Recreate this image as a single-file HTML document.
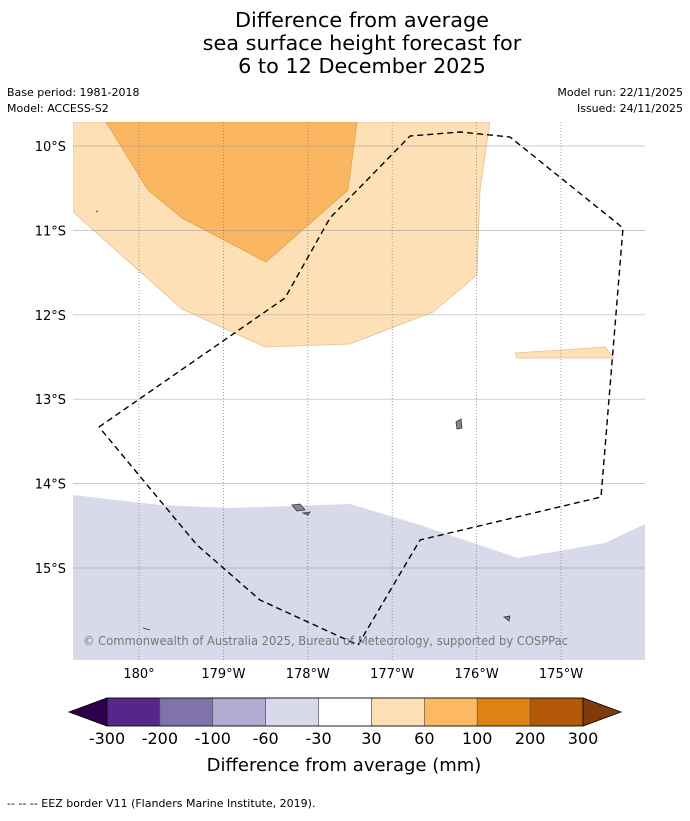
<!DOCTYPE html>
<html><head><meta charset="utf-8"><style>
body{margin:0;background:#fff;font-family:"Liberation Sans","DejaVu Sans",sans-serif;}
</style></head><body>
<svg width="690" height="816" viewBox="0 0 690 816" xmlns="http://www.w3.org/2000/svg" font-family="DejaVu Sans, Liberation Sans, sans-serif">
<text x="362" y="27" font-size="20.8" text-anchor="middle">Difference from average</text>
<text x="362" y="50" font-size="20.8" text-anchor="middle">sea surface height forecast for</text>
<text x="362" y="73" font-size="20.8" text-anchor="middle">6 to 12 December 2025</text>
<text x="7" y="96" font-size="11">Base period: 1981-2018</text>
<text x="7" y="112" font-size="11">Model: ACCESS-S2</text>
<text x="683" y="96" font-size="11" text-anchor="end">Model run: 22/11/2025</text>
<text x="683" y="112" font-size="11" text-anchor="end">Issued: 24/11/2025</text>
<defs><clipPath id="mapclip"><rect x="73" y="122" width="572" height="538"/></clipPath></defs>
<g clip-path="url(#mapclip)">
<rect x="73" y="122" width="572" height="538" fill="#fff"/>
<polygon fill="#fde0b6" stroke="#e8c090" stroke-width="0.8" points="73,122 490,122 480,190 477,275 433,312 350,344 265,347 182,309 73,212"/>
<polygon fill="#fbb662" stroke="#e0a050" stroke-width="0.8" points="106,122 357,122 348,190 266,262 182,218 148,190"/>
<polygon fill="#fde0b6" stroke="#e8c090" stroke-width="0.8" points="515,353 605,347 614,358 517,358"/>
<polygon fill="#d8d9ea" points="73,495 160,505 230,508 350,504 420,525 518,558 605,543 645,524 645,660 73,660"/>
<g id="grid"></g>
<g fill="#888" stroke="#333" stroke-width="0.8">
<path d="M292,505 L300,504 L305,510 L297,511 Z"/><path d="M303,513 L310,512 L308,515 Z"/>
<path d="M456,422 L461,419 L462,428 L457,429 Z"/><path d="M504,617 L510,616 L509,621 Z"/>
<path d="M143,628 L150,630" fill="none"/><path d="M96,211 L98,212" fill="none"/>
</g>
<polyline fill="none" stroke="#000" stroke-width="1.4" stroke-dasharray="6,4" points="99,427 285,298 330,218 410,136 460,132 510,137 623,228 601,497 420,540 358,645 260,600 197,545 99,427"/>
<text x="83" y="645" font-size="12" fill="#777" textLength="485" lengthAdjust="spacingAndGlyphs">© Commonwealth of Australia 2025, Bureau of Meteorology, supported by COSPPac</text>
</g>
<g id="axes"></g>
<g id="cbar"></g>
<text x="344" y="771" font-size="18" text-anchor="middle">Difference from average (mm)</text>
<text x="7" y="807" font-size="11">--  --  -- EEZ border V11 (Flanders Marine Institute, 2019).</text>
</svg>
<script>
const latTicks=[-10,-11,-12,-13,-14,-15];
const latLabels=["10°S","11°S","12°S","13°S","14°S","15°S"];
const lonTicks=[-180,-179,-178,-177,-176,-175];
const lonLabels=["180°","179°W","178°W","177°W","176°W","175°W"];
const cbLabels=["-300","-200","-100","-60","-30","30","60","100","200","300"];
const cbColors=["#542788","#8073ac","#b2abd2","#d8daeb","#ffffff","#fee0b6","#fdb863","#e08214","#b35806"];
const cbEnds=["#2d004b","#7f3b08"];
const NS="http://www.w3.org/2000/svg";
const xs=lon=>139+84.4*(lon+180);
const ys=lat=>146+84.4*(-10-lat);
function mk(t,a,p){const e=document.createElementNS(NS,t);for(const k in a)e.setAttribute(k,a[k]);p.appendChild(e);return e;}
const grid=document.getElementById('grid'),axes=document.getElementById('axes'),cb=document.getElementById('cbar');
latTicks.forEach((v,i)=>{
 const l=mk('line',{x1:73,x2:645,y1:ys(v),y2:ys(v),stroke:'#999','stroke-width':0.7,'stroke-opacity':0.7},grid);
 
 
 const t=mk('text',{x:66,y:ys(v)+5,'font-size':13,'text-anchor':'end'},axes);t.textContent=latLabels[i];
 
 
});
lonTicks.forEach((v,i)=>{
 const l=mk('line',{x1:xs(v),x2:xs(v),y1:122,y2:660,stroke:'#778','stroke-width':0.7,'stroke-dasharray':'1,2'},grid);
 
 
 const t=mk('text',{x:xs(v),y:678,'font-size':13,'text-anchor':'middle'},axes);t.textContent=lonLabels[i];
 
 
});
const cx0=107,cx1=583,cy0=698,cy1=726,n=cbColors.length,w=(cx1-cx0)/n;
const lt=mk('polygon',{points:`${cx0},${cy0} ${cx0},${cy1} 69,${(cy0+cy1)/2}`,fill:cbEnds[0],stroke:'#000','stroke-width':0.8},cb);


const rt=mk('polygon',{points:`${cx1},${cy0} ${cx1},${cy1} 621,${(cy0+cy1)/2}`,fill:cbEnds[1],stroke:'#000','stroke-width':0.8},cb);


cbColors.forEach((c,i)=>{
 const r=mk('rect',{x:cx0+i*w,y:cy0,width:w,height:cy1-cy0,fill:c,stroke:'#555','stroke-width':0.6},cb);
 
 
});
mk('rect',{x:cx0,y:cy0,width:cx1-cx0,height:cy1-cy0,fill:'none',stroke:'#000','stroke-width':0.8},cb);
cbLabels.forEach((s,i)=>{
 const t=mk('text',{x:cx0+i*w,y:744,'font-size':16,'text-anchor':'middle'},cb);t.textContent=s;
 
 
});
</script>
</body></html>
